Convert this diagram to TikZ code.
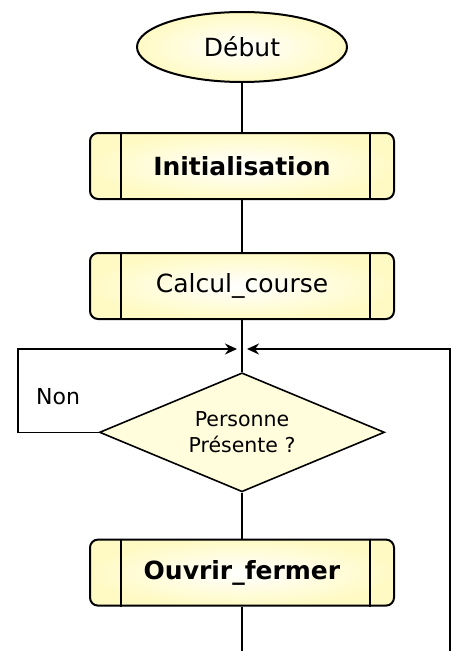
\documentclass[tikz,border=0pt]{standalone}
\usepackage{fontspec}
\setmainfont{DejaVu Sans}
\usepackage{tikz}
\usetikzlibrary{arrows.meta,calc,positioning,shapes.geometric}
\definecolor{jaune}{HTML}{FFFAC4}
\definecolor{jaunepale}{HTML}{FFFDDC}
\tikzset{%
        auto,
        >={Stealth[length=12pt,width=11pt]}
}
\tikzstyle{debutfin}=[
    ellipse,
    draw = black,
    line width = 2pt,
    inner color = white,
    outer color = jaune,
    minimum width = 210pt,
    minimum height = 70pt,
    font = \fontsize{25}{30}\selectfont
]
\tikzstyle{sousprog}=[
    rectangle,
    rounded corners = 8pt,
    draw = black,
    line width = 2pt,
    inner color = white,
    outer color = jaune,
    minimum width = 304pt,
    minimum height = 66pt,
    font = \fontsize{25}{30}\selectfont
]
\tikzstyle{test}=[
    diamond,
    aspect = 2.4,
    draw = black,
    line width = 1.6pt,
    fill = jaunepale,
    inner sep = 0pt,
    minimum width = 285pt,
    minimum height = 119pt,
    align = center,
    font = \fontsize{20.5}{26}\selectfont
]
% les deux traits verticaux d'un sous-programme
\newcommand{\barres}[1]{%
  \draw[line width=2pt] ($(#1.north west)+(32,0)$) -- ($(#1.south west)+(32,0)$);
  \draw[line width=2pt] ($(#1.north east)+(-25,0)$) -- ($(#1.south east)+(-25,0)$);
}

\begin{document}
\begin{tikzpicture}[x=1pt,y=-1pt,line width=1.5pt]
        \useasboundingbox (0,0) rectangle (453,651);
        \node[debutfin] (debut) at (242,47) {Début};
        \node[sousprog] (init) [below=49pt of debut] {\bfseries Initialisation};
        \node[sousprog] (calcul) [below=52pt of init] {Calcul\_course};
        \node[test] (dia) [below=52pt of calcul] {Personne\\Présente ?};
        \node[sousprog] (ouvrir) [below=46pt of dia] {\bfseries Ouvrir\_fermer};
        \barres{init}
        \barres{calcul}
        \barres{ouvrir}
        \coordinate (j) at ([yshift=-29pt]calcul.south);
        \coordinate (gauche) at (18,0);
        \coordinate (fin) at (242,651);
        \coordinate (droite) at (450,651);
      \draw (debut) -- (init);
      \draw (init) -- (calcul);
      \draw (calcul) -- (dia);
      \draw (dia) -- (ouvrir);
      \draw (ouvrir) -- (fin);
      \draw[->, shorten >=5pt] (dia.west) -- (dia.west -| gauche) |- (j)
        node[pos=0.25, right=14pt, yshift=-6pt, font=\fontsize{22}{26}\selectfont] (non) {Non};
      \draw[->, shorten >=5pt] (droite) |- (j);
    \end{tikzpicture}
\end{document}
